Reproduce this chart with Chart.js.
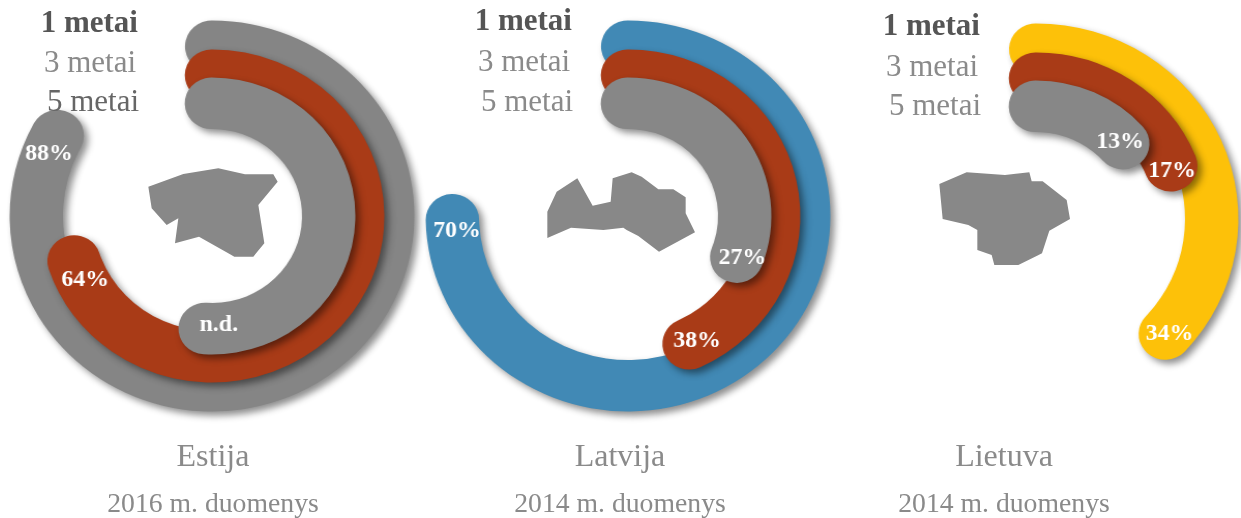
<!DOCTYPE html>
<html><head><meta charset="utf-8">
<script src="https://cdn.jsdelivr.net/npm/chart.js@4"></script>
<style>
html,body{margin:0;padding:0;background:#fff;width:1241px;height:518px;overflow:hidden}
canvas{position:absolute;transform:scaleX(1.035);transform-origin:center}
.t{position:absolute;font-family:"Liberation Serif",serif;white-space:nowrap;line-height:1;z-index:5}
svg{position:absolute;left:0;top:0}
</style></head><body>
<svg width="1241" height="518" id="maps"></svg>
<script>
// Values: share of the full circle covered by each ring
const rings = ['1 metai','3 metai','5 metai'];
const countries = ['Estija','Latvija','Lietuva'];
const sources = ['2016 m. duomenys','2014 m. duomenys','2014 m. duomenys'];
const estija = [87.7,75.7,58.3];
const latvija = [79.5,49,38.3];
const lietuva = [41.7,24.7,20.7];
const estijaLabels = ['88%','64%','n.d.'];
const latvijaLabels = ['70%','38%','27%'];
const lietuvaLabels = ['34%','17%','13%'];

// Styling
const RED='#A93B17', GREY='#878787';
const panels=[
 {vals:estija,labels:estijaLabels,cols:['#858585',RED,GREY],cx:212,cy:215.5,back:[15,19,20],rad:[0,-3,-5],
  legend:{right:138,ys:[21,61,100],cols:['#555','#8a8a8a','#666']},cap:213},
 {vals:latvija,labels:latvijaLabels,cols:['#4189B5',RED,GREY],cx:628,cy:215.5,back:[12,14,14.4],rad:[-4,0,5],
  legend:{right:572,ys:[19,60,100],cols:['#555','#8a8a8a','#8a8a8a']},cap:620},
 {vals:lietuva,labels:lietuvaLabels,cols:['#FDC109',RED,GREY],cx:1036,cy:218.5,back:[10,9,15],rad:[2,0,0],
  legend:{right:980,ys:[24,65,104],cols:['#555','#8a8a8a','#8a8a8a']},cap:1004}
];
const OUTER=[195.5,166.5,138.5], THICK=51.5, START=[-8.8,-10.7,-13.4], SIZE=480;
const LEGEND_NUDGE=[0,-2,1];

const ringPlugin={
 id:'ringPlugin',
 afterDatasetsUpdate(chart){
  chart.data.datasets.forEach((d,i)=>{
   chart.getDatasetMeta(i).data.forEach(el=>{el.outerRadius=OUTER[i];el.innerRadius=OUTER[i]-THICK;});
  });
 },
 beforeDatasetDraw(chart){
  const c=chart.ctx;c.save();
  c.shadowColor='rgba(0,0,0,0.45)';c.shadowBlur=7;c.shadowOffsetX=4;c.shadowOffsetY=4;
 },
 afterDatasetDraw(chart){chart.ctx.restore();},
 afterDatasetsDraw(chart,args,opts){
  const c=chart.ctx;c.save();
  c.fillStyle='#fff';c.font='bold 23px "Liberation Serif",serif';c.textAlign='center';c.textBaseline='middle';
  chart.data.datasets.forEach((d,i)=>{
   const el=chart.getDatasetMeta(i).data[0];
   const a=el.endAngle-opts.back[i]*Math.PI/180, r=(el.outerRadius+el.innerRadius)/2+opts.rad[i];
   c.fillText(opts.labels[i],el.x+Math.cos(a)*r,el.y+Math.sin(a)*r+1.5);
  });
  c.restore();
 }
};

panels.forEach(p=>{
 const cv=document.createElement('canvas');
 cv.width=SIZE;cv.height=SIZE;
 cv.style.left=(p.cx-SIZE/2)+'px';cv.style.top=(p.cy-SIZE/2)+'px';
 document.body.appendChild(cv);
 new Chart(cv,{
  type:'doughnut',
  data:{labels:['reikšmė','likutis'],datasets:p.vals.map((v,i)=>({
   data:[v,100-v],backgroundColor:[p.cols[i],'rgba(0,0,0,0)'],borderWidth:0,
   borderRadius:26,rotation:START[i],order:3-i
  }))},
  options:{responsive:false,maintainAspectRatio:false,animation:false,events:[],radius:195.5,
   layout:{padding:0},
   plugins:{legend:{display:false},tooltip:{enabled:false},ringPlugin:{labels:p.labels,back:p.back,rad:p.rad}}},
  plugins:[ringPlugin]
 });
 rings.forEach((r,i)=>{
  const e=document.createElement('div');e.className='t';e.textContent=r;
  e.style.cssText+=`right:${1241-p.legend.right-LEGEND_NUDGE[i]}px;top:${p.legend.ys[i]-15}px;font-size:31px;color:${p.legend.cols[i]};font-weight:${i==0?'bold':'normal'}`;
  document.body.appendChild(e);
 });
});
countries.forEach((n,i)=>{
 const a=document.createElement('div');a.className='t';a.textContent=n;
 a.style.cssText+=`left:${panels[i].cap-150}px;width:300px;text-align:center;top:439px;font-size:32px;color:#8a8a8a`;
 document.body.appendChild(a);
 const b=document.createElement('div');b.className='t';b.textContent=sources[i];
 b.style.cssText+=`left:${panels[i].cap-150}px;width:300px;text-align:center;top:489px;font-size:27.7px;color:#8a8a8a`;
 document.body.appendChild(b);
});
// Decorative country outlines (zoomed picture coordinates / 3 plus offset)
const outlines=[
 [0,[445,560,550,522,655,505,735,523,820,523,833,545,775,615,793,730,760,770,703,770,597,710,525,730,535,655,500,675,455,625]],
 [420,[382,635,410,575,472,535,518,617,572,605,578,535,635,517,665,530,715,568,760,568,797,592,797,640,825,697,717,755,655,708,620,690,610,683,550,690,453,683,382,714]],
 [860,[238,552,320,517,435,525,508,517,515,544,548,544,620,600,630,657,568,692,546,760,475,795,403,795,395,765,352,750,352,690,325,675,248,657]]
];
const svg=document.getElementById('maps');
outlines.forEach(([ox,pts])=>{
 const pg=document.createElementNS('http://www.w3.org/2000/svg','polygon');
 let s='';for(let i=0;i<pts.length;i+=2)s+=(ox+pts[i]/3)+','+(pts[i+1]/3)+' ';
 pg.setAttribute('points',s);pg.setAttribute('fill','#888888');svg.appendChild(pg);
});
</script>
</body></html>
